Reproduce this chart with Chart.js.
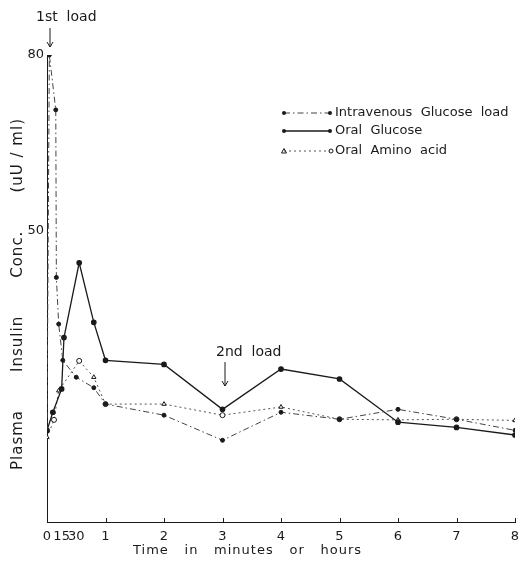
<!DOCTYPE html>
<html>
<head>
<meta charset="utf-8">
<script src="https://cdn.jsdelivr.net/npm/chart.js@4.4.1/dist/chart.umd.min.js"></script>
<style>
  html, body { margin: 0; padding: 0; background: #fff; }
  #wrap { position: relative; width: 532px; height: 566px; }
</style>
</head>
<body>
<div id="wrap"><canvas id="c" width="532" height="566"></canvas></div>
<script>
// Data (time in hours, insulin in uU/ml)
const ivTimes = [0, 0.04, 0.15, 0.16, 0.2, 0.27, 0.5, 0.8, 1, 2, 3, 4, 5, 6, 7, 8];
const ivValues = [15.5, 80, 70.6, 41.9, 33.9, 27.7, 24.8, 23, 20.2, 18.3, 14, 18.8, 17.6, 19.3, 17.6, 15.7];

const ogTimes = [0, 0.1, 0.25, 0.29, 0.55, 0.8, 1, 2, 3, 4, 5, 6, 7, 8];
const ogValues = [15.7, 18.8, 22.8, 31.6, 44.4, 34.2, 27.7, 27, 19.3, 26.2, 24.5, 17.1, 16.2, 14.9];

const aaTimes = [0, 0.12, 0.2, 0.55, 0.8, 1, 2, 3, 4, 5, 6, 7, 8];
const aaValues = [14.5, 17.5, 22.5, 27.6, 24.8, 20.2, 20.2, 18.3, 19.7, 17.6, 17.5, 17.6, 17.4];

const seriesNames = ["Intravenous  Glucose  load", "Oral  Glucose", "Oral  Amino  acid"];

const xTickValues = [0, 0.25, 0.5, 1, 2, 3, 4, 5, 6, 7, 8];
const xTickLabels = ["0", "15", "30", "1", "2", "3", "4", "5", "6", "7", "8"];
const yTickValues = [50, 80];

// words separated by double spaces get spread out
const xTitle = "Time  in  minutes  or  hours";
const yTitle = "Plasma  Insulin  Conc.  (uU / ml)";

const FONT = "'DejaVu Sans', sans-serif";
const INK = "#1a1a1a";

function pts(ts, vs) {
  return ts.map((t, i) => ({ x: t, y: vs[i] }));
}

// draw words justified between x0 and x0+width (typewriter-like wide gaps)
function justifiedText(ctx, text, x0, cy, width) {
  ctx.letterSpacing = "1px";
  const words = text.split("  ");
  const ws = words.map(w => ctx.measureText(w).width);
  const total = ws.reduce((a, b) => a + b, 0);
  const gap = words.length > 1 ? (width - total) / (words.length - 1) : 0;
  ctx.textAlign = "left";
  let x = x0;
  words.forEach((w, i) => {
    ctx.fillText(w, x, cy);
    x += ws[i] + gap;
  });
  ctx.letterSpacing = "0px";
}

// legend, load arrows, axis titles, inward hour ticks
const decorPlugin = {
  id: "decor",
  afterDraw(chart) {
    const ctx = chart.ctx;
    const xs = chart.scales.x;
    const ys = chart.scales.y;
    ctx.save();
    ctx.fillStyle = INK;
    ctx.strokeStyle = INK;
    ctx.textBaseline = "middle";

    // small inward ticks on x axis
    ctx.lineWidth = 1;
    for (let h = 1; h <= 8; h++) {
      const px = Math.round(xs.getPixelForValue(h)) + 0.5;
      ctx.beginPath();
      ctx.moveTo(px, ys.bottom);
      ctx.lineTo(px, ys.bottom - 4);
      ctx.stroke();
    }

    // axis titles
    ctx.font = "13px " + FONT;
    justifiedText(ctx, xTitle, 133, 551, 229);
    ctx.save();
    ctx.translate(18, 470);
    ctx.rotate(-Math.PI / 2);
    ctx.font = "15px " + FONT;
    justifiedText(ctx, yTitle, 0, 0, 352);
    ctx.restore();

    // load arrows
    const arrow = (x, y0, y1) => {
      ctx.beginPath();
      ctx.moveTo(x, y0);
      ctx.lineTo(x, y1);
      ctx.moveTo(x - 3, y1 - 5);
      ctx.lineTo(x, y1);
      ctx.lineTo(x + 3, y1 - 5);
      ctx.stroke();
    };
    ctx.font = "14px " + FONT;
    ctx.textAlign = "left";
    ctx.fillText("1st  load", 36, 17);
    arrow(50, 28, 47);
    ctx.fillText("2nd  load", 216, 352);
    arrow(225, 362, 386);

    // legend
    ctx.font = "13px " + FONT;
    const rows = [113, 131, 151];
    chart.data.datasets.forEach((ds, i) => {
      const y = rows[i];
      ctx.save();
      ctx.strokeStyle = ds.borderColor;
      ctx.lineWidth = ds.borderWidth;
      ctx.setLineDash(ds.borderDash || []);
      ctx.beginPath();
      ctx.moveTo(284, y);
      ctx.lineTo(330, y);
      ctx.stroke();
      ctx.setLineDash([]);
      ctx.fillStyle = INK;
      ctx.strokeStyle = INK;
      if (i < 2) {
        [284, 330].forEach(px => {
          ctx.beginPath();
          ctx.arc(px, y, 2, 0, Math.PI * 2);
          ctx.fill();
        });
      } else {
        ctx.beginPath();
        ctx.moveTo(284, y - 2.5); ctx.lineTo(286.5, y + 2); ctx.lineTo(281.5, y + 2); ctx.closePath();
        ctx.stroke();
        ctx.beginPath();
        ctx.arc(331, y, 2, 0, Math.PI * 2);
        ctx.stroke();
      }
      ctx.restore();
      ctx.textAlign = "left";
      ctx.fillText(ds.label, 335, y);
    });
    ctx.restore();
  }
};

new Chart(document.getElementById("c"), {
  type: "line",
  data: {
    datasets: [
      {
        label: seriesNames[0],
        data: pts(ivTimes, ivValues),
        borderColor: "#444",
        borderWidth: 1,
        borderDash: [6, 3, 1.5, 3],
        pointRadius: 2,
        pointBackgroundColor: INK,
        pointBorderColor: INK,
        tension: 0
      },
      {
        label: seriesNames[1],
        data: pts(ogTimes, ogValues),
        borderColor: INK,
        borderWidth: 1.3,
        pointRadius: 2.2,
        pointBackgroundColor: INK,
        pointBorderColor: INK,
        tension: 0
      },
      {
        label: seriesNames[2],
        data: pts(aaTimes, aaValues),
        borderColor: "#555",
        borderWidth: 1,
        borderDash: [2, 3],
        pointRadius: 2.5,
        pointStyle: aaTimes.map((t, i) => (i % 2 ? "circle" : "triangle")),
        pointBackgroundColor: "#fff",
        pointBorderColor: INK,
        pointBorderWidth: 1,
        tension: 0
      }
    ]
  },
  options: {
    responsive: false,
    animation: false,
    layout: { padding: { top: 55, right: 17, left: 0, bottom: 0 } },
    plugins: { legend: { display: false }, tooltip: { enabled: false } },
    scales: {
      x: {
        type: "linear",
        min: 0,
        max: 8,
        afterBuildTicks: s => { s.ticks = xTickValues.map(v => ({ value: v })); },
        afterFit: s => { s.height = 44; },
        grid: { display: false, drawTicks: false },
        border: { display: true, color: INK, width: 1 },
        ticks: {
          color: INK,
          font: { family: FONT, size: 13 },
          padding: 7,
          maxRotation: 0,
          autoSkip: false,
          callback: (v) => {
            const i = xTickValues.indexOf(v);
            return i >= 0 ? xTickLabels[i] : "";
          }
        }
      },
      y: {
        min: 0,
        max: 80,
        afterBuildTicks: s => { s.ticks = yTickValues.map(v => ({ value: v })); },
        afterFit: s => { s.width = 47; },
        grid: { display: false, drawTicks: false },
        border: { display: true, color: INK, width: 1 },
        ticks: {
          color: INK,
          font: { family: FONT, size: 13 },
          padding: 3
        }
      }
    }
  },
  plugins: [decorPlugin]
});
</script>
</body>
</html>
